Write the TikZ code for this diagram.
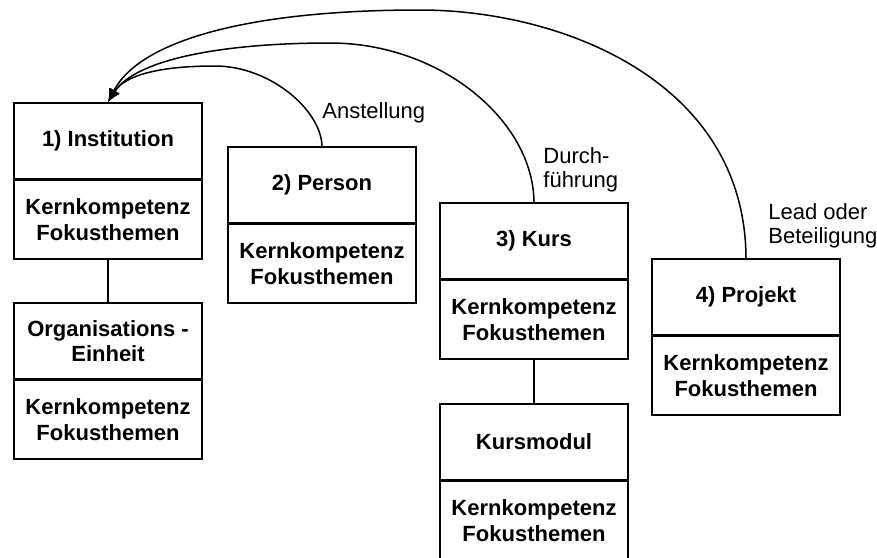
\documentclass[tikz,border=0pt]{standalone}
\usepackage{fontspec}
\setmainfont{Liberation Sans}
\usetikzlibrary{arrows.meta,positioning}

\tikzset{
  head/.style={draw,line width=1pt,minimum width=94pt,minimum height=38pt,inner sep=0pt,align=center,font=\bfseries\fontsize{11}{12.8}\selectfont},
  body/.style={head,minimum height=39.5pt},
  link/.style={line width=0.75pt,-{Latex[length=6.5pt,width=5.5pt]}},
  rel/.style={anchor=west,inner sep=0pt,align=left,font=\fontsize{11}{12}\selectfont}
}

\begin{document}
\begin{tikzpicture}[x=0.5pt,y=-0.5pt]
  \useasboundingbox (0,0) rectangle (877,557);
  \foreach[count=\i] \name/\px/\py/\txt in {inst/13/102/{1) Institution},pers/227/146/{2) Person},kurs/439/202/{3) Kurs},proj/651/258/{4) Projekt},org/13/302/{Organisations -\\Einheit},modul/439/403/{Kursmodul}} {
    \node[head,anchor=north west] (\name) at (\px,\py) {\txt};
    \node[body,below=-0.5pt of \name] (\name-b) {Kernkompetenz\\Fokusthemen};
  }
  \draw[line width=0.75pt] (inst-b) -- (org);
  \draw[line width=0.75pt] (kurs-b) -- (modul);
  \draw[link] (pers.north) .. controls (321,110) and (270,66) .. (215,66) .. controls (160,66) and (125,75) .. (inst.north);
  \draw[link] (kurs.north) .. controls (533,120) and (440,43) .. (330,43) .. controls (220,43) and (135,60) .. (inst.north);
  \draw[link] (proj.north) .. controls (745,80) and (560,10) .. (420,10) .. controls (250,10) and (140,40) .. (inst.north);
  \node[rel] (anst) at (322,113) {Anstellung};
  \node[rel] (durch) at (543,170) {Durch-\\führung};
  \node[rel] (lead) at (768,226) {Lead oder\\Beteiligung};
\end{tikzpicture}
\end{document}
